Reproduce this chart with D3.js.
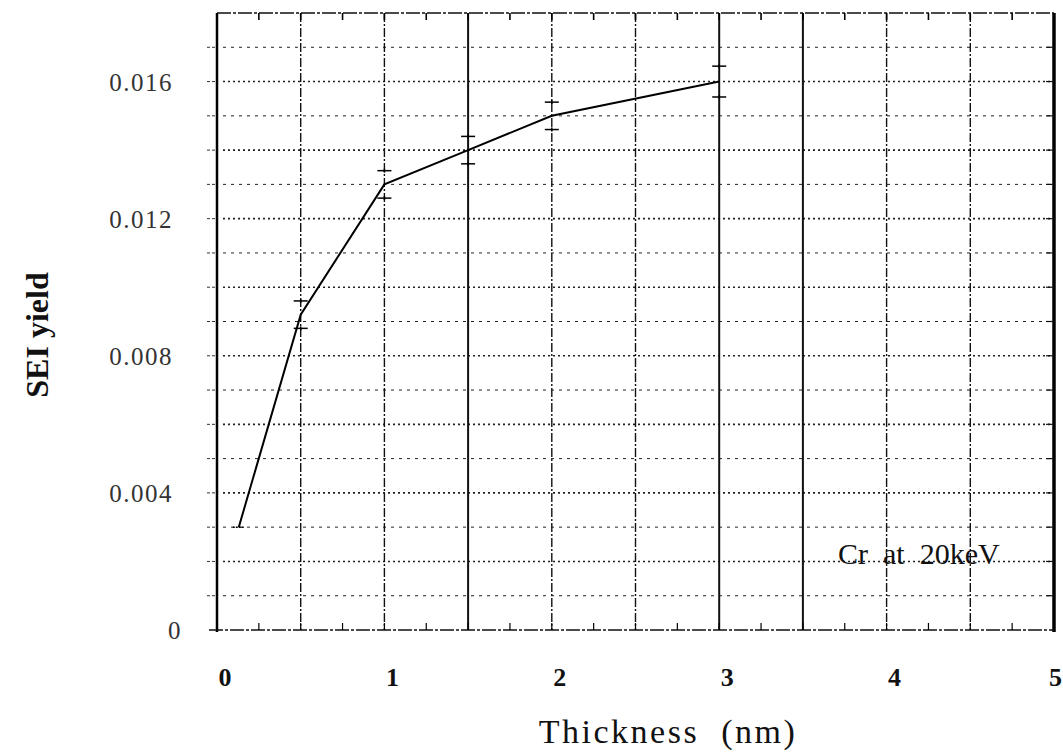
<!DOCTYPE html>
<html>
<head>
<meta charset="utf-8">
<script src="https://cdn.jsdelivr.net/npm/d3@7"></script>
<style>
  body { margin: 0; background: #fff; }
  svg { display: block; font-family: "Liberation Serif", "DejaVu Serif", serif; }
  text { white-space: pre; }
</style>
</head>
<body>
<div id="container"></div>
<script>
// data
var thickness = [0.13, 0.5, 1, 1.5, 2, 3]
var yieldSE1 = [0.003, 0.0092, 0.013, 0.014, 0.015, 0.016]
var errBar = [0, 0.0004, 0.0004, 0.0004, 0.0004, 0.00045]
var xTicks = [0, 1, 2, 3, 4, 5]
var yTicks = [0, 0.004, 0.008, 0.012, 0.016]
var yTickLabels = ["0", "0.004", "0.008", "0.012", "0.016"]

function drawChart() {
  var width = 1063
  var height = 754
  var svg = d3.select("#container")
    .append("svg")
    .attr("width", width)
    .attr("height", height)

  var x = d3.scaleLinear().domain([0, 5]).range([217, 1054])
  var y = d3.scaleLinear().domain([0, 0.018]).range([630, 13])

  // horizontal dotted grid, every 0.001
  var hLines = d3.range(1, 18).map(function(i) { return i * 0.001 })
  svg.append("g")
    .selectAll("line")
    .data(hLines)
    .enter()
    .append("line")
    .attr("x1", x(0) + 6)
    .attr("x2", x(5) - 4)
    .attr("y1", (d) => y(d))
    .attr("y2", (d) => y(d))
    .attr("stroke", "#222")
    .attr("stroke-width", (d, i) => i % 2 == 1 ? 1.6 : 1)
    .attr("stroke-dasharray", (d, i) => i % 2 == 1 ? "2,3" : "3,5")

  // vertical grid every 0.5
  var vLines = d3.range(1, 10).map(function(i) { return i * 0.5 })
  svg.append("g")
    .selectAll("line")
    .data(vLines)
    .enter()
    .append("line")
    .attr("x1", (d) => x(d))
    .attr("x2", (d) => x(d))
    .attr("y1", y(0.018))
    .attr("y2", y(0))
    .attr("stroke", "#111")
    .attr("stroke-width", (d) => (d == 1.5 || d == 3 || d == 3.5) ? 2 : 1.4)
    .attr("stroke-dasharray", (d) => (d == 1.5 || d == 3 || d == 3.5) ? null : "9,2,2,2")

  // frame
  svg.append("line")
    .attr("x1", x(0)).attr("x2", x(0))
    .attr("y1", y(0.018)).attr("y2", y(0) + 2)
    .attr("stroke", "#000").attr("stroke-width", 2.5)
  svg.append("line")
    .attr("x1", x(5)).attr("x2", x(5))
    .attr("y1", y(0.018)).attr("y2", y(0) + 2)
    .attr("stroke", "#000").attr("stroke-width", 3.5)
  svg.append("line")
    .attr("x1", x(0)).attr("x2", x(5))
    .attr("y1", y(0.018)).attr("y2", y(0.018))
    .attr("stroke", "#111").attr("stroke-width", 1.6)
    .attr("stroke-dasharray", "14,2,3,2")
  svg.append("line")
    .attr("x1", x(0) - 8).attr("x2", x(5))
    .attr("y1", y(0)).attr("y2", y(0))
    .attr("stroke", "#111").attr("stroke-width", 1.6)
    .attr("stroke-dasharray", "14,2,3,2")

  // minor ticks on top and bottom
  var xMinor = d3.range(1, 20).map(function(i) { return i * 0.25 })
  svg.append("g")
    .selectAll("line")
    .data(xMinor)
    .enter()
    .append("line")
    .attr("x1", (d) => x(d))
    .attr("x2", (d) => x(d))
    .attr("y1", y(0.018))
    .attr("y2", y(0.018) + 7)
    .attr("stroke", "#000")
    .attr("stroke-width", 1.6)
  svg.append("g")
    .selectAll("line")
    .data(xMinor)
    .enter()
    .append("line")
    .attr("x1", (d) => x(d))
    .attr("x2", (d) => x(d))
    .attr("y1", y(0))
    .attr("y2", y(0) - 7)
    .attr("stroke", "#000")
    .attr("stroke-width", 1.2)

  // left ticks outward, right ticks inward
  svg.append("g")
    .selectAll("line")
    .data(hLines)
    .enter()
    .append("line")
    .attr("x1", x(0) - 10)
    .attr("x2", x(0))
    .attr("y1", (d) => y(d))
    .attr("y2", (d) => y(d))
    .attr("stroke", "#333")
    .attr("stroke-width", 1)
    .attr("stroke-dasharray", "3,2")
  svg.append("g")
    .selectAll("line")
    .data(hLines)
    .enter()
    .append("line")
    .attr("x1", x(5) - 8)
    .attr("x2", x(5))
    .attr("y1", (d) => y(d))
    .attr("y2", (d) => y(d))
    .attr("stroke", "#111")
    .attr("stroke-width", 1.2)

  // y tick labels
  svg.append("g")
    .selectAll("text")
    .data(yTicks)
    .enter()
    .append("text")
    .attr("x", (d) => d == 0 ? 182 : 173)
    .attr("y", (d) => y(d) + 9)
    .attr("text-anchor", "end")
    .attr("font-size", 25)
    .attr("fill", "#333")
    .attr("letter-spacing", 1.5)
    .text((d, i) => yTickLabels[i])

  // x tick labels
  svg.append("g")
    .selectAll("text")
    .data(xTicks)
    .enter()
    .append("text")
    .attr("x", (d) => d == 5 ? 1062 : x(d) + 8)
    .attr("y", 686)
    .attr("text-anchor", (d) => d == 5 ? "end" : "middle")
    .attr("font-size", 26)
    .attr("font-weight", "bold")
    .attr("fill", "#111")
    .text((d) => d)

  // axis titles
  svg.append("text")
    .attr("x", 668)
    .attr("y", 743)
    .attr("text-anchor", "middle")
    .attr("font-size", 34)
    .attr("letter-spacing", 2.5)
    .attr("fill", "#111")
    .text("Thickness  (nm)")

  svg.append("text")
    .attr("transform", "translate(48,335) rotate(-90)")
    .attr("text-anchor", "middle")
    .attr("font-size", 32)
    .attr("font-weight", "bold")
    .attr("fill", "#111")
    .text("SEI yield")

  svg.append("text")
    .attr("x", 838)
    .attr("y", 564)
    .attr("font-size", 30)
    .attr("fill", "#111")
    .text("Cr  at  20keV")

  // data line
  var pts = thickness.map(function(t, i) { return [t, yieldSE1[i]] })
  var line = d3.line()
    .x((d) => x(d[0]))
    .y((d) => y(d[1]))
  svg.append("path")
    .datum(pts)
    .attr("d", line)
    .attr("fill", "none")
    .attr("stroke", "#000")
    .attr("stroke-width", 2)

  // error bar caps
  var caps = []
  thickness.forEach(function(t, i) {
    if (errBar[i] > 0) {
      caps.push([t, yieldSE1[i] + errBar[i]])
      caps.push([t, yieldSE1[i] - errBar[i]])
    }
  })
  svg.append("g")
    .selectAll("line")
    .data(caps)
    .enter()
    .append("line")
    .attr("x1", (d) => x(d[0]) - 7)
    .attr("x2", (d) => x(d[0]) + 7)
    .attr("y1", (d) => y(d[1]))
    .attr("y2", (d) => y(d[1]))
    .attr("stroke", "#000")
    .attr("stroke-width", 1.5)
  svg.append("g")
    .selectAll("line")
    .data(caps)
    .enter()
    .append("line")
    .attr("x1", (d) => x(d[0]))
    .attr("x2", (d) => x(d[0]))
    .attr("y1", (d) => y(d[1]) - 2)
    .attr("y2", (d) => y(d[1]) + 2)
    .attr("stroke", "#000")
    .attr("stroke-width", 1.5)

  // small marker at first point
  svg.append("line")
    .attr("x1", x(thickness[0]) - 6)
    .attr("x2", x(thickness[0]) + 6)
    .attr("y1", y(yieldSE1[0]))
    .attr("y2", y(yieldSE1[0]))
    .attr("stroke", "#000")
    .attr("stroke-width", 1.5)
    .attr("stroke-dasharray", "2,1")
}

drawChart()
</script>
</body>
</html>
